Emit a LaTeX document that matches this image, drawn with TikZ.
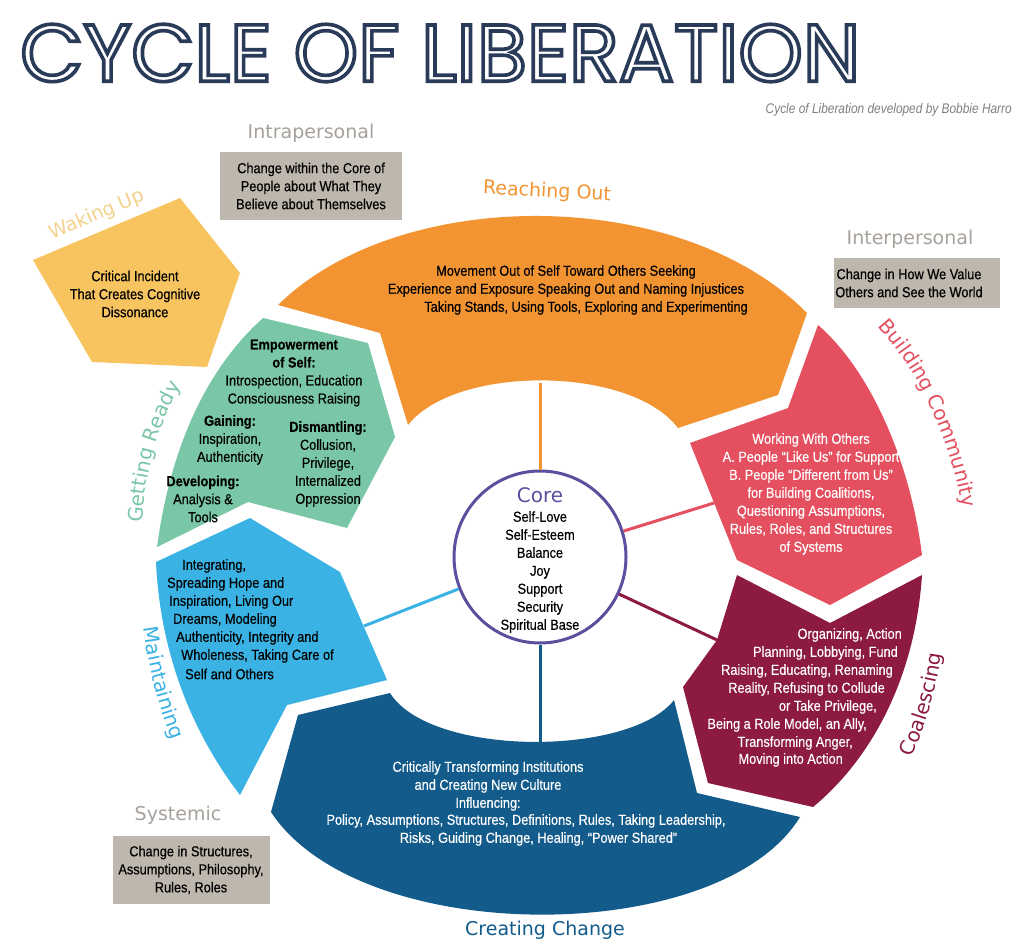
\documentclass[tikz,border=0pt]{standalone}
\usepackage{fontspec}
\usetikzlibrary{decorations.text}
\setmainfont{Liberation Sans}
\newfontfamily\bodyf[FakeStretch=0.88,FakeBold=0.4]{Liberation Sans}
\newfontfamily\subf[FakeStretch=0.85]{Liberation Sans}
\newfontfamily\labf{DejaVu Sans}
\newfontfamily\titf{Poppins}
\definecolor{corange}{HTML}{F39433}
\definecolor{cyellow}{HTML}{F8C460}
\definecolor{cgreen}{HTML}{7AC7A8}
\definecolor{clblue}{HTML}{3AB3E4}
\definecolor{cdblue}{HTML}{135B8B}
\definecolor{cpink}{HTML}{E4505F}
\definecolor{cmaroon}{HTML}{8C1A43}
\definecolor{cgreybox}{HTML}{BEB7AD}
\definecolor{cgreylab}{HTML}{A7A19B}
\definecolor{cnavy}{HTML}{2A3B5A}
\definecolor{ccore}{HTML}{5B4F9E}
\definecolor{cwake}{HTML}{F3D08C}
\begin{document}
\begin{tikzpicture}[x=1pt,y=-1pt,
  body/.style={font=\bodyf\fontsize{14.5}{18}\selectfont,align=center,inner sep=0pt},
  bl/.style={font=\bodyf\fontsize{14.5}{18}\selectfont,inner sep=0pt},
  seglab/.style={font=\labf\fontsize{19}{22}\selectfont,inner sep=0pt},
  greybox/.style={fill=cgreybox,draw=none},
  spoke/.style={line width=3pt}]
\useasboundingbox (0,0) rectangle (1024,949);
\fill[white] (0,0) rectangle (1024,949);
% title
\node[inner sep=0pt,anchor=north west] (title) at (20,24) {\color{cnavy}\resizebox{840pt}{57pt}{\special{pdf:literal direct 1 Tr 0.45 w}\titf CYCLE OF LIBERATION\special{pdf:literal direct 0 Tr}}};
\node[anchor=east,inner sep=0pt,text=gray,font=\subf\itshape\fontsize{14}{15}\selectfont] (sub) at (1012,110) {Cycle of Liberation developed by Bobbie Harro};
% segments
\fill[cyellow] (33,260) -- (180,198) -- (240,273) -- (207,367) -- (92,362) -- cycle;
\fill[corange] (278,305) .. controls (400,185) and (680,185) .. (807,313) -- (778,395) -- (678,428) .. controls (630,365) and (455,365) .. (408,425) -- (380,333) -- cycle;
\fill[cgreen] (263,318) -- (368,343) -- (395,437) -- (347,528) -- (248,502) -- (157,547) .. controls (170,450) and (205,370) .. (263,318);
\fill[clblue] (156,562) -- (250,518) -- (340,572) -- (387,680) -- (287,705) -- (240,795) .. controls (190,730) and (160,650) .. (156,562);
\fill[cdblue] (298,715) -- (390,693) .. controls (430,757) and (630,757) .. (674,700) -- (697,793) -- (800,817) .. controls (720,948) and (360,948) .. (271,812) -- cycle;
\fill[cpink] (818,325) .. controls (870,370) and (910,460) .. (922,555) -- (830,605) -- (737,560) -- (690,443) -- (788,408) -- cycle;
\fill[cmaroon] (737,575) -- (830,623) -- (922,575) .. controls (915,680) and (870,760) .. (813,807) -- (708,783) -- (683,687) -- (717,640) -- cycle;
% spokes
\node[circle,draw=ccore,line width=3pt,fill=white,minimum size=172pt,inner sep=0pt] (core) at (540,557) {};
\coordinate (eo) at (540,383);
\coordinate (ep) at (714,503);
\coordinate (em) at (717,640);
\coordinate (ed) at (540,742);
\coordinate (eb) at (364,626);
\draw[spoke,corange] (core) -- (eo);
\draw[spoke,cpink] (core) -- (ep);
\draw[spoke,cmaroon] (core) -- (em);
\draw[spoke,cdblue] (core) -- (ed);
\draw[spoke,clblue] (core) -- (eb);
\node[inner sep=0pt,text=ccore,font=\labf\fontsize{20}{20}\selectfont] (coret) at (540,495) {Core};
\node[body] (corel) at (540,572) {Self-Love\\Self-Esteem\\Balance\\Joy\\Support\\Security\\Spiritual Base};
% grey boxes
\node[greybox,minimum width=182pt,minimum height=68pt] (intrabox) at (311,186) {};
\node[body] (intrat) at (311,186) {Change within the Core of\\People about What They\\Believe about Themselves};
\node[seglab,text=cgreylab] (intral) at (311,133) {Intrapersonal};
\node[greybox,minimum width=166pt,minimum height=50pt] (interbox) at (917,283) {};
\node[body] (intert) at (909,283) {Change in How We Value\\Others and See the World};
\node[seglab,text=cgreylab] (interl) at (910,239) {Interpersonal};
\node[greybox,minimum width=157pt,minimum height=68pt] (sysbox) at (191,870) {};
\node[body] (syst) at (191,870) {Change in Structures,\\Assumptions, Philosophy,\\Rules, Roles};
\node[seglab,text=cgreylab] (sysl) at (178,815) {Systemic};
% segment labels
\node[seglab,text=corange,rotate=-3] (lro) at (547,192) {Reaching Out};
\node[seglab,text=cwake,rotate=23] (lwu) at (97,215) {Waking Up};
\node[seglab,text=cdblue,rotate=0] (lcc) at (545,930) {Creating Change};
\begin{scope}[y=1pt]
\path[decorate,decoration={text along path,text align=center,text={|\labf\fontsize{20}{22}\selectfont\color{cpink}|Building Community}}] (866,-314) .. controls (920,-367) and (955,-445) .. (965,-525);
\path[decorate,decoration={text along path,text align=center,text={|\labf\fontsize{20}{22}\selectfont\color{cmaroon}|Coalescing}}] (906,-770) .. controls (923,-735) and (938,-690) .. (943,-640);
\path[decorate,decoration={text along path,text align=center,text={|\labf\fontsize{20}{22}\selectfont\color{clblue}|Maintaining}}] (140,-590) .. controls (143,-650) and (158,-715) .. (187,-775);
\path[decorate,decoration={text along path,text align=center,text={|\labf\fontsize{20}{22}\selectfont\color{cgreen}|Getting Ready}}] (142,-535) .. controls (144,-470) and (157,-425) .. (187,-375);
\end{scope}
% segment texts
\node[body] (tw) at (135,294) {Critical Incident\\That Creates Cognitive\\Dissonance};
\node[body] (to) at (566,290) {Movement Out of Self Toward Others Seeking\\Experience and Exposure Speaking Out and Naming Injustices\\\hspace*{40pt}Taking Stands, Using Tools, Exploring and Experimenting};
\node[body] (tg1) at (294,373) {\textbf{Empowerment}\\\textbf{of Self:}\\Introspection, Education\\Consciousness Raising};
\node[body] (tg2) at (230,440) {\textbf{Gaining:}\\Inspiration,\\Authenticity};
\node[body] (tg3) at (203,499) {\textbf{Developing:}\\Analysis \&\\Tools};
\node[body] (tg4) at (328,464) {\textbf{Dismantling:}\\Collusion,\\Privilege,\\Internalized\\Oppression};
\node[bl,anchor=west] (b1) at (182,566) {Integrating,};
\node[bl,anchor=west] (b2) at (167,584) {Spreading Hope and};
\node[bl,anchor=west] (b3) at (169,602) {Inspiration, Living Our};
\node[bl,anchor=west] (b4) at (173,620) {Dreams, Modeling};
\node[bl,anchor=west] (b5) at (176,638) {Authenticity, Integrity and};
\node[bl,anchor=west] (b6) at (181,656) {Wholeness, Taking Care of};
\node[bl,anchor=west] (b7) at (185,674) {Self and Others};
\node[body,text=white] (tp) at (811,494) {Working With Others\\A. People “Like Us” for Support\\B. People “Different from Us”\\for Building Coalitions,\\Questioning Assumptions,\\Rules, Roles, and Structures\\of Systems};
\node[bl,anchor=east,text=white] (m1) at (902,635) {Organizing, Action};
\node[bl,anchor=east,text=white] (m2) at (898,653) {Planning, Lobbying, Fund};
\node[bl,anchor=east,text=white] (m3) at (893,671) {Raising, Educating, Renaming};
\node[bl,anchor=east,text=white] (m4) at (885,689) {Reality, Refusing to Collude};
\node[bl,anchor=east,text=white] (m5) at (877,707) {or Take Privilege,};
\node[bl,anchor=east,text=white] (m6) at (867,725) {Being a Role Model, an Ally,};
\node[bl,anchor=east,text=white] (m7) at (853,743) {Transforming Anger,};
\node[bl,anchor=east,text=white] (m8) at (843,760) {Moving into Action};
\node[body,text=white] (td1) at (488,786) {Critically Transforming Institutions\\and Creating New Culture\\Influencing:};
\node[body,text=white] (td2) at (526,830) {Policy, Assumptions, Structures, Definitions, Rules, Taking Leadership,\\\hspace*{25pt}Risks, Guiding Change, Healing, “Power Shared”};
\end{tikzpicture}
\end{document}
